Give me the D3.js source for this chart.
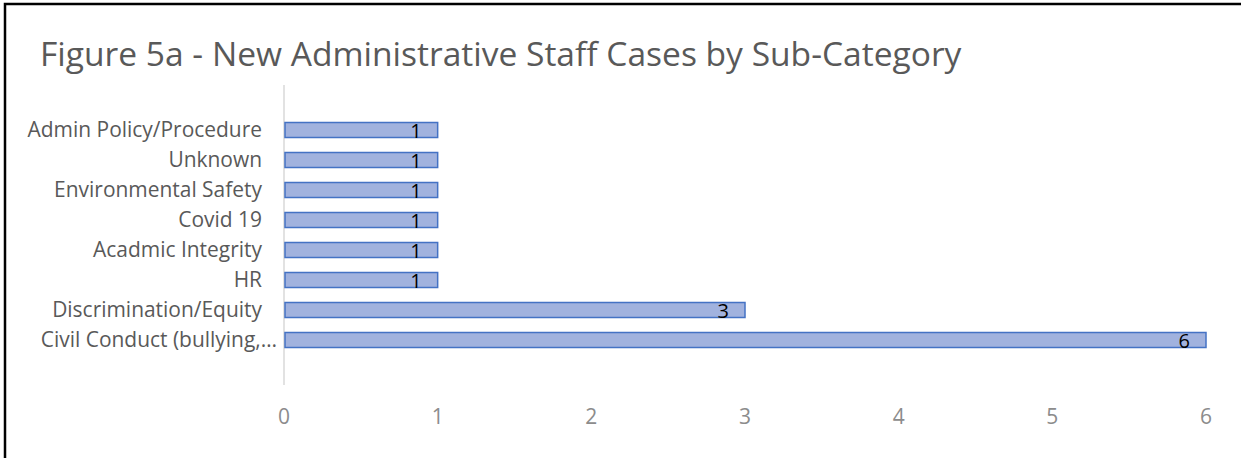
<!DOCTYPE html>
<html>
<head>
<meta charset="utf-8">
<script src="https://cdn.jsdelivr.net/npm/d3@7"></script>
<style>
  body { margin: 0; background: #fff; overflow: hidden; }
  text { font-family: "Open Sans", "Noto Sans", sans-serif; }
</style>
</head>
<body>
<div id="chart"></div>
<script>
const categorias = ["Admin Policy/Procedure", "Unknown", "Environmental Safety", "Covid 19",
  "Acadmic Integrity", "HR", "Discrimination/Equity", "Civil Conduct (bullying,…"];
const valores = [1, 1, 1, 1, 1, 1, 3, 6];
const ticks = [0, 1, 2, 3, 4, 5, 6];
const titulo = "Figure 5a - New Administrative Staff Cases by Sub-Category";

const W = 1241, H = 458;
const svg = d3.select("#chart").append("svg").attr("width", W).attr("height", H)
  .style("display", "block");

// moldura
svg.append("path")
  .attr("d", `M5,${H} V4 H${W}`)
  .attr("fill", "none").attr("stroke", "#000").attr("stroke-width", 2.5);

// shrink/grow font so text spans about the width measured on the reference
function fit(sel, size, alvo) {
  sel.attr("font-size", size);
  const w = sel.node().getComputedTextLength();
  sel.attr("font-size", size * alvo / w);
}

const t = svg.append("text").attr("x", 40).attr("y", 66).attr("fill", "#595959").text(titulo);
fit(t, 30, 922);

const x = d3.scaleLinear().domain([0, 6]).range([284, 1206]);
const y = d3.scaleBand().domain(categorias).range([85, 385]).paddingInner(0.5).paddingOuter(1.25);

// eixo vertical
svg.append("line").attr("x1", 284).attr("x2", 284).attr("y1", 85).attr("y2", 385)
  .attr("stroke", "#d9d9d9").attr("stroke-width", 1.5);

// barras
svg.append("g").selectAll("rect")
  .data(valores).enter()
  .append("rect")
  .attr("x", x(0) + 1)
  .attr("y", (d, i) => y(categorias[i]))
  .attr("width", d => x(d) - x(0) - 1)
  .attr("height", y.bandwidth())
  .attr("fill", "#a1b2de")
  .attr("stroke", "#4472c4")
  .attr("stroke-width", 1.5);

// rotulos de valor
svg.append("g").selectAll("text")
  .data(valores).enter()
  .append("text")
  .attr("x", d => x(d) - 16)
  .attr("y", (d, i) => y(categorias[i]) + y.bandwidth() + 0.5)
  .attr("text-anchor", "end")
  .attr("font-size", 20)
  .attr("fill", "#000")
  .text(d => d);

// categorias
const cats = svg.append("g").selectAll("text")
  .data(categorias).enter()
  .append("text")
  .attr("x", (d, i) => i == categorias.length - 1 ? 277 : 262)
  .attr("y", d => y(d) + y.bandwidth() / 2)
  .attr("dy", "0.35em")
  .attr("text-anchor", "end")
  .attr("fill", "#595959")
  .text(d => d);
fit(cats.filter(d => d == "Discrimination/Equity"), 18, 210);
cats.attr("font-size", cats.filter(d => d == "Discrimination/Equity").attr("font-size"));

// eixo x
svg.append("g").selectAll("text")
  .data(ticks).enter()
  .append("text")
  .attr("x", d => x(d))
  .attr("y", 424)
  .attr("text-anchor", "middle")
  .attr("font-size", 21)
  .attr("fill", "#8c8c8c")
  .text(d => d);
</script>
</body>
</html>
